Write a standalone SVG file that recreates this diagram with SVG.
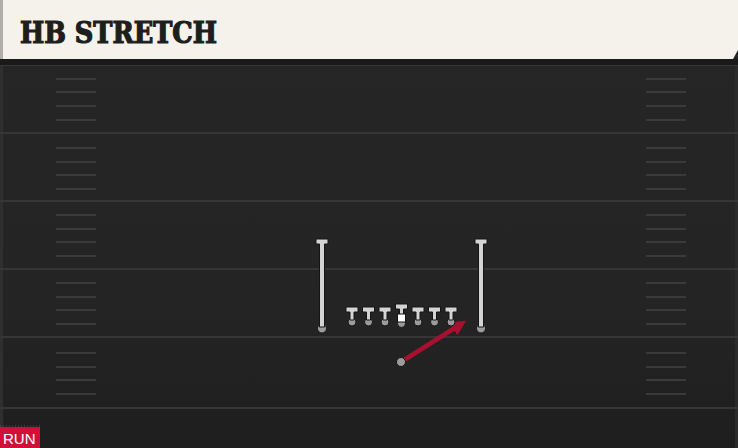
<svg xmlns="http://www.w3.org/2000/svg" width="738" height="448" viewBox="0 0 738 448">
<style>
.yard{stroke:#363636;stroke-width:2}
.hash{stroke:#3a3a3a;stroke-width:2}
.pl{fill:#d4d4d4;stroke:#141414;stroke-width:1}
.dot{fill:#9c9c9c;stroke:#141414;stroke-width:1}
.route{stroke:#a8102f;stroke-width:4.5;fill:none;stroke-linecap:round}
</style>
<defs>
<linearGradient id="fg" x1="0" y1="0" x2="0" y2="1">
<stop offset="0" stop-color="#262626"/>
<stop offset="0.7" stop-color="#242424"/>
<stop offset="1" stop-color="#1e1e1e"/>
</linearGradient>
<marker id="ah" viewBox="0 0 10 10" refX="6" refY="5" markerWidth="3.4" markerHeight="3.4" orient="auto" markerUnits="strokeWidth">
<path d="M0,0 L10,5 L0,10 z" fill="#a8102f"/>
</marker>
</defs>
<rect x="0" y="0" width="738" height="448" fill="url(#fg)"/>
<rect x="0" y="60" width="3" height="388" fill="#2f2f2f"/>
<rect x="735" y="60" width="3" height="388" fill="#2b2b2b"/>
<g id="field">
<line class="yard" x1="0" y1="65" x2="738" y2="65"/>
<line class="yard" x1="0" y1="133" x2="738" y2="133"/>
<line class="yard" x1="0" y1="201" x2="738" y2="201"/>
<line class="yard" x1="0" y1="269" x2="738" y2="269"/>
<line class="yard" x1="0" y1="337" x2="738" y2="337"/>
<line class="yard" x1="0" y1="408" x2="738" y2="408"/>
<g id="hashes-left">
<line class="hash" x1="56" y1="79" x2="96" y2="79"/><line class="hash" x1="56" y1="92" x2="96" y2="92"/><line class="hash" x1="56" y1="106" x2="96" y2="106"/><line class="hash" x1="56" y1="120" x2="96" y2="120"/>
<line class="hash" x1="56" y1="148" x2="96" y2="148"/><line class="hash" x1="56" y1="162" x2="96" y2="162"/><line class="hash" x1="56" y1="175" x2="96" y2="175"/><line class="hash" x1="56" y1="189" x2="96" y2="189"/>
<line class="hash" x1="56" y1="215" x2="96" y2="215"/><line class="hash" x1="56" y1="229" x2="96" y2="229"/><line class="hash" x1="56" y1="242" x2="96" y2="242"/><line class="hash" x1="56" y1="256" x2="96" y2="256"/>
<line class="hash" x1="56" y1="283" x2="96" y2="283"/><line class="hash" x1="56" y1="297" x2="96" y2="297"/><line class="hash" x1="56" y1="310" x2="96" y2="310"/><line class="hash" x1="56" y1="324" x2="96" y2="324"/>
<line class="hash" x1="56" y1="353" x2="96" y2="353"/><line class="hash" x1="56" y1="367" x2="96" y2="367"/><line class="hash" x1="56" y1="380" x2="96" y2="380"/><line class="hash" x1="56" y1="394" x2="96" y2="394"/>
</g>
<g id="hashes-right">
<line class="hash" x1="646" y1="79" x2="686" y2="79"/><line class="hash" x1="646" y1="92" x2="686" y2="92"/><line class="hash" x1="646" y1="106" x2="686" y2="106"/><line class="hash" x1="646" y1="120" x2="686" y2="120"/>
<line class="hash" x1="646" y1="148" x2="686" y2="148"/><line class="hash" x1="646" y1="162" x2="686" y2="162"/><line class="hash" x1="646" y1="175" x2="686" y2="175"/><line class="hash" x1="646" y1="189" x2="686" y2="189"/>
<line class="hash" x1="646" y1="215" x2="686" y2="215"/><line class="hash" x1="646" y1="229" x2="686" y2="229"/><line class="hash" x1="646" y1="242" x2="686" y2="242"/><line class="hash" x1="646" y1="256" x2="686" y2="256"/>
<line class="hash" x1="646" y1="283" x2="686" y2="283"/><line class="hash" x1="646" y1="297" x2="686" y2="297"/><line class="hash" x1="646" y1="310" x2="686" y2="310"/><line class="hash" x1="646" y1="324" x2="686" y2="324"/>
<line class="hash" x1="646" y1="353" x2="686" y2="353"/><line class="hash" x1="646" y1="367" x2="686" y2="367"/><line class="hash" x1="646" y1="380" x2="686" y2="380"/><line class="hash" x1="646" y1="394" x2="686" y2="394"/>
</g>
</g>
<g id="header">
<rect x="0" y="59" width="738" height="6" fill="#1a1a1a"/>
<path d="M3,0 H738 V50 L733,59 H3 Z" fill="#f5f2eb"/>
<rect x="0" y="0" width="3" height="59" fill="#b0aea8"/>
<text x="20" y="43" font-family="DejaVu Serif Condensed, DejaVu Serif, serif" font-weight="bold" font-size="30" fill="#1e1e1e" stroke="#1e1e1e" stroke-width="1.2" textLength="197" lengthAdjust="spacingAndGlyphs">HB STRETCH</text>
</g>
<g id="connectors">
<line class="route" x1="401" y1="362" x2="461" y2="324" marker-end="url(#ah)"/>
</g>
<g id="wr-left"><circle class="dot" cx="322" cy="328.5" r="4.5"/><path class="pl" d="M316,239 H328 V244 H324.5 V327 H319.5 V244 H316 Z"/></g>
<g id="wr-right"><circle class="dot" cx="481" cy="328.5" r="4.5"/><path class="pl" d="M475,239 H487 V244 H483.5 V327 H478.5 V244 H475 Z"/></g>
<g id="lt"><circle class="dot" cx="352" cy="322" r="4"/><path class="pl" d="M346,307 H358 V312 H354 V320 H350 V312 H346 Z"/></g>
<g id="lg"><circle class="dot" cx="368.5" cy="322" r="4"/><path class="pl" d="M362.5,307 H374.5 V312 H370.5 V320 H366.5 V312 H362.5 Z"/></g>
<g id="c-left"><circle class="dot" cx="385" cy="322" r="4"/><path class="pl" d="M379,307 H391 V312 H387 V320 H383 V312 H379 Z"/></g>
<g id="center"><circle class="dot" cx="401.5" cy="323.5" r="4"/><path class="pl" d="M395.5,304 H407.5 V309 H403.5 V315 H399.5 V309 H395.5 Z"/><rect x="397.5" y="314" width="8" height="8" fill="#ffffff" stroke="#141414" stroke-width="1"/></g>
<g id="rg"><circle class="dot" cx="418" cy="322" r="4"/><path class="pl" d="M412,307 H424 V312 H420 V320 H416 V312 H412 Z"/></g>
<g id="rt"><circle class="dot" cx="434.5" cy="322" r="4"/><path class="pl" d="M428.5,307 H440.5 V312 H436.5 V320 H432.5 V312 H428.5 Z"/></g>
<g id="te"><circle class="dot" cx="451" cy="322" r="4"/><path class="pl" d="M445,307 H457 V312 H453 V320 H449 V312 H445 Z"/></g>
<g id="rb"><circle class="dot" cx="401" cy="362" r="4.5"/></g>
<g id="tag">
<line x1="0" y1="426" x2="40" y2="426" stroke="#555" stroke-width="1" stroke-dasharray="1,2"/>
<rect x="0" y="427" width="40" height="21" fill="#d0103a"/>
<text x="3" y="444" font-family="Liberation Sans, Arial, sans-serif" font-size="15" fill="#ffffff">RUN</text>
</g>
</svg>
